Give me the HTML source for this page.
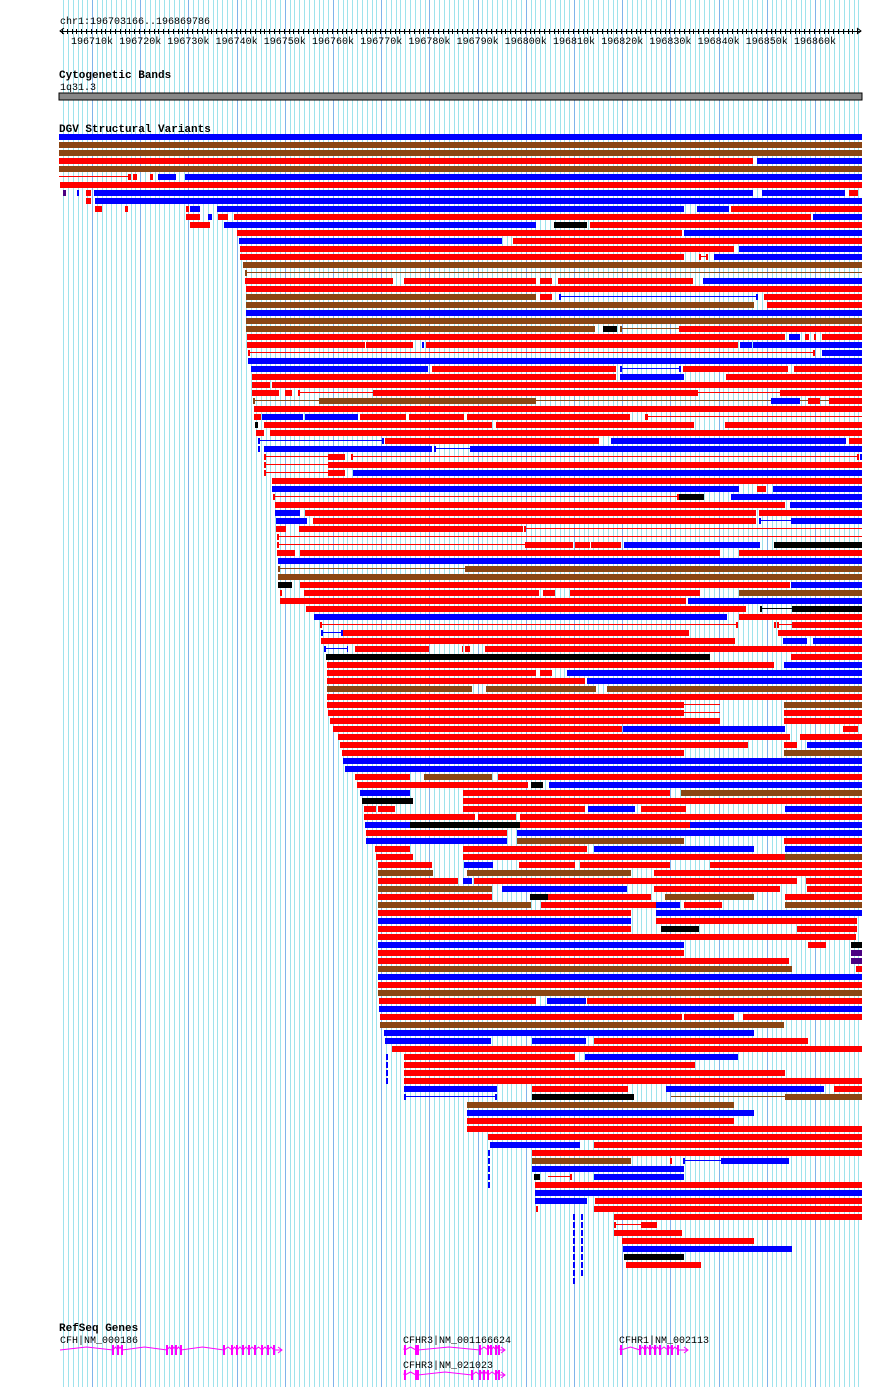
<!DOCTYPE html>
<html><head><meta charset="utf-8">
<style>
html,body{margin:0;padding:0;background:#fff;}
svg{display:block;}
text{font-family:"Liberation Mono","DejaVu Sans Mono",monospace;}
</style></head>
<body>
<svg id="s" width="890" height="1387" xmlns="http://www.w3.org/2000/svg" shape-rendering="crispEdges"></svg>
<script>
const S=document.getElementById('s');
let h='';
// grid
for(let k=-12;k<170;k++){const x=Math.round(92+k*4.82);if(x<59||x>862)continue;
 const major=(k%10===0);
 h+=`<rect x="${x}" y="0" width="1" height="1387" fill="${major?'#80b4ea':'#9fe3ec'}"/>`;}
// ruler
h+=`<text x="60" y="24" font-size="10">chr1:196703166..196869786</text>`;
h+=`<rect x="60" y="31" width="801" height="1" fill="#000"/>`;
h+=`<path d="M64,28 L60,31 L64,34 M857,28 L861,31 L857,34" stroke="#000" fill="none" shape-rendering="auto"/>`;
for(let x=62;x<861;x+=4.82){h+=`<rect x="${Math.round(x)}" y="29" width="1" height="5" fill="#000"/>`;}
for(let k=0;k<16;k++){const x=92+k*48.2;h+=`<text x="${x}" y="44" font-size="10" text-anchor="middle">${196710+k*10}k</text>`;}
// cytoband
h+=`<text x="59" y="78" font-size="11" font-weight="bold">Cytogenetic Bands</text>`;
h+=`<text x="60" y="90" font-size="10">1q31.3</text>`;
h+=`<rect x="59" y="93" width="803" height="7" fill="#888" stroke="#000"/>`;
h+=`<text x="59" y="132" font-size="11" font-weight="bold">DGV Structural Variants</text>`;
const C={r:'#ff0000',b:'#0000ff',n:'#8b4513',k:'#000000',p:'#4b0082'};
const rowsA=`133:b 59 862
141:n 59 862
149:n 59 862
157:r 59 753,b 757 862
165:n 59 862
173:R 59 128,r 128 131,r 133 137,r 150 153,b 158 176,b 185 862
181:r 60 862
189:p 63 66,b 77 79,r 86 91,b 94 753,b 762 845,r 849 858
197:r 86 91,b 95 862
205:r 95 102,r 125 128,r 186 189,b 190 200,b 217 684,b 697 729,r 731 862
213:r 186 200,b 208 212,r 218 228,r 234 811,b 813 862
221:r 190 210,b 224 536,k 554 587,r 590 862
229:r 237 682,b 684 862
237:b 239 502,r 513 862
245:r 240 734,b 739 862
254:r 240 684,r 699 701,R 701 706,r 706 708,b 714 862
262:n 243 862
270:N 245 862,n 245 247
278:r 245 393,r 404 536,r 540 552,r 558 693,b 703 862
286:r 246 862
294:n 246 536,r 540 552,B 559 758,b 559 561,b 756 758,r 764 862
302:n 246 754,r 767 862
310:b 246 862
318:n 246 862
326:n 246 595,k 603 617,N 620 679,n 620 622,r 679 862
334:r 247 785,b 789 800,r 805 809,r 814 816,r 822 862
342:r 247 365,r 366 413,b 422 424,r 426 738,b 740 752,b 753 862
350:r 248 250,R 250 815,r 813 815,b 822 862
358:b 248 862
366:b 251 428,r 432 616,B 620 681,b 620 622,b 679 681,r 683 788,r 794 862
374:r 252 616,b 620 684,r 726 862
382:r 252 270,r 272 862
390:r 252 279,r 285 292,R 298 373,r 298 300,r 373 698,R 698 780,r 780 862
398:N 253 862,n 253 255,n 319 536,b 771 800,r 808 820,r 829 862
406:r 254 862
414:r 254 261,b 262 303,b 305 358,r 360 406,r 409 464,r 467 630,R 645 862,r 645 648
422:k 255 258,r 264 492,r 496 694,r 725 862
430:r 256 264,r 270 862
438:B 258 384,b 258 260,b 382 384,r 385 599,b 611 846,r 849 862
446:b 258 260,b 264 432,B 434 470,b 434 436,b 470 862
454:r 264 266,R 266 328,r 328 345,r 351 353,R 353 857,r 857 859,b 860 862
462:r 264 266,R 266 328,r 328 862
470:r 264 266,R 266 328,r 328 345,b 353 862
478:r 272 862
486:b 272 739,r 757 766,b 773 862
494:r 273 275,R 275 677,r 677 679,k 679 704,b 731 862
502:r 275 785,b 790 862
510:b 275 300,r 305 756,r 759 862
518:b 276 307,r 313 756,b 759 761,B 761 791,b 791 862
526:r 276 286,r 299 523,r 524 526,R 526 862
534:r 277 279,R 279 862
542:r 277 279,R 279 525,r 525 573,r 575 590,r 591 621,b 624 760,k 774 862
550:r 277 295,r 300 720,r 739 862
558:b 278 862
566:N 278 465,n 278 280,n 465 862
574:n 278 862
582:k 278 292,r 300 790,b 791 862
590:r 280 282,r 304 539,r 543 555,r 570 700,n 739 862
598:r 280 686,b 688 862
606:r 306 746,K 760 792,k 760 762,k 792 862
614:b 314 727,r 739 862
622:r 320 322,R 322 737,r 736 738,r 774 776,r 777 779,R 779 792,r 792 862
630:b 321 323,B 323 341,b 341 343,r 343 689,r 778 862
638:r 321 735,b 783 807,b 813 862
646:b 324 326,B 326 347,b 347 348,r 355 429,r 462 463,r 465 470,r 485 862
654:k 326 710,r 791 862`;
const rowsB=`653:r 327 774,b 784 862
661:r 327 536,r 540 552,b 567 862
669:r 327 585,b 587 862
677:n 327 472,n 486 596,n 607 862
685:r 327 862
693:r 327 684,R 684 720,n 784 862
701:r 328 684,R 684 720,r 784 862
709:r 330 720,r 784 862
717:r 333 622,b 623 785,r 843 858
725:r 338 790,r 800 862
733:r 340 748,r 784 797,b 807 862
741:r 342 684,n 784 862
749:b 343 862
757:b 345 862
765:r 355 410,n 424 492,r 498 862
773:r 357 528,k 531 543,b 549 862
781:b 360 410,r 463 670,n 681 862
789:k 362 413,r 463 862
797:r 364 376,r 378 395,r 463 585,b 588 635,r 641 686,b 785 862
805:r 364 475,r 478 516,R 520 690,r 520 862
813:b 365 410,k 410 520,r 520 690,b 690 862
821:r 366 507,b 517 862
829:b 366 507,n 517 684,r 784 862
837:r 375 410,r 463 587,b 594 754,b 785 862
845:r 376 413,r 463 785,n 785 862
853:r 378 432,b 464 493,r 519 575,r 580 670,r 710 862
861:n 378 433,n 467 631,r 654 862
869:r 378 458,b 463 472,r 474 797,r 806 862
877:n 378 492,b 502 627,r 654 780,r 807 862
885:r 378 492,k 530 548,r 548 651,n 665 754,r 785 862
893:n 378 531,r 541 656,b 656 680,r 684 722,n 785 862
901:r 378 631,b 656 862
909:b 378 631,r 656 857
917:r 378 631,k 661 699,r 797 857
925:r 378 856
933:b 378 684,r 808 826,k 851 862
941:r 378 684,p 851 862
949:r 378 789,p 851 862
957:n 378 792,r 856 862
965:b 378 862
973:r 378 862
981:n 378 862
989:r 379 536,b 547 586,r 587 862
997:b 379 862
1005:r 380 682,r 684 734,r 743 862
1013:n 380 784
1021:b 384 754
1029:b 385 491,b 532 586,r 594 808
1037:r 392 862
1045:r 404 575,b 585 738
1053:r 404 695
1061:r 404 785
1069:r 404 862
1077:b 404 497,r 532 628,b 666 824,r 834 862
1085:B 404 497,b 404 406,b 495 497,k 532 634,N 671 785,n 785 862
1093:n 467 734
1101:b 467 754
1109:r 467 734
1117:r 467 862
1125:r 488 862
1133:b 490 580,r 594 862
1141:r 532 862
1149:n 532 631,r 670 672,B 683 721,b 683 685,b 721 789
1157:b 532 684
1165:k 534 540,R 548 570,r 570 572,b 594 684
1173:r 535 862
1181:b 535 862
1189:b 535 587,r 595 862
1197:r 536 538,r 594 862
1205:r 614 862
1213:R 614 641,r 614 616,r 641 657
1221:r 614 682
1229:r 622 754
1237:b 623 792
1245:k 624 684
1253:r 626 701`;
function draw(rows,off){
rows.split('\n').forEach(l=>{const [ys,segs]=l.split(':');const i=Math.round((+ys+off-133)/8);const y=134+8*i;
 segs.split(',').forEach(sg=>{const [c,a,b]=sg.trim().split(' ');const x1=+a,x2=+b;
  if(c===c.toUpperCase()){h+=`<rect x="${x1}" y="${y+2}" width="${x2-x1}" height="1" fill="${C[c.toLowerCase()]}"/>`;}
  else h+=`<rect x="${x1}" y="${y}" width="${x2-x1}" height="6" fill="${C[c]}"/>`;});});}
draw(rowsA,0);draw(rowsB,9);
// dashed verticals
function dash(x,y1,y2){for(let y=y1;y<y2;y+=8)h+=`<rect x="${x}" y="${y}" width="2" height="6" fill="#00f"/>`;}
dash(386,1054,1086);dash(488,1150,1190);dash(573,1214,1286);dash(581,1214,1278);
// genes
h+=`<text x="59" y="1331" font-size="11" font-weight="bold">RefSeq Genes</text>`;
h+=`<text x="60" y="1343" font-size="10">CFH|NM_000186</text>`;
h+=`<text x="403" y="1343" font-size="10">CFHR3|NM_001166624</text>`;
h+=`<text x="619" y="1343" font-size="10">CFHR1|NM_002113</text>`;
h+=`<text x="403" y="1368" font-size="10">CFHR3|NM_021023</text>`;
const M='#ff00ff';
function gene(x1,x2,y,exons){let d=`M${x1},${y}`;let prev=x1;
 exons.forEach(e=>{const m=(prev+e)/2;d+=` L${m},${y-3} L${e},${y}`;prev=e;});
 d+=` L${x2},${y}`;h+=`<path d="${d}" stroke="${M}" fill="none" shape-rendering="auto"/>`;
 exons.forEach(e=>h+=`<rect x="${e-1}" y="${y-5}" width="2" height="10" fill="${M}"/>`);
 h+=`<path d="M${x2-4},${y-3} L${x2},${y} L${x2-4},${y+3}" stroke="${M}" fill="none" shape-rendering="auto"/>`;}
gene(60,282,1350,[113,118,122,167,172,176,181,224,232,237,243,249,255,262,268,274]);
gene(404,505,1350,[405,416,418,480,488,491,496,499]);
gene(404,505,1375,[405,416,418,472,480,484,488,496,499]);
gene(620,688,1350,[621,640,645,650,655,660,668,672,678]);
S.innerHTML=h;
</script>
</body></html>
